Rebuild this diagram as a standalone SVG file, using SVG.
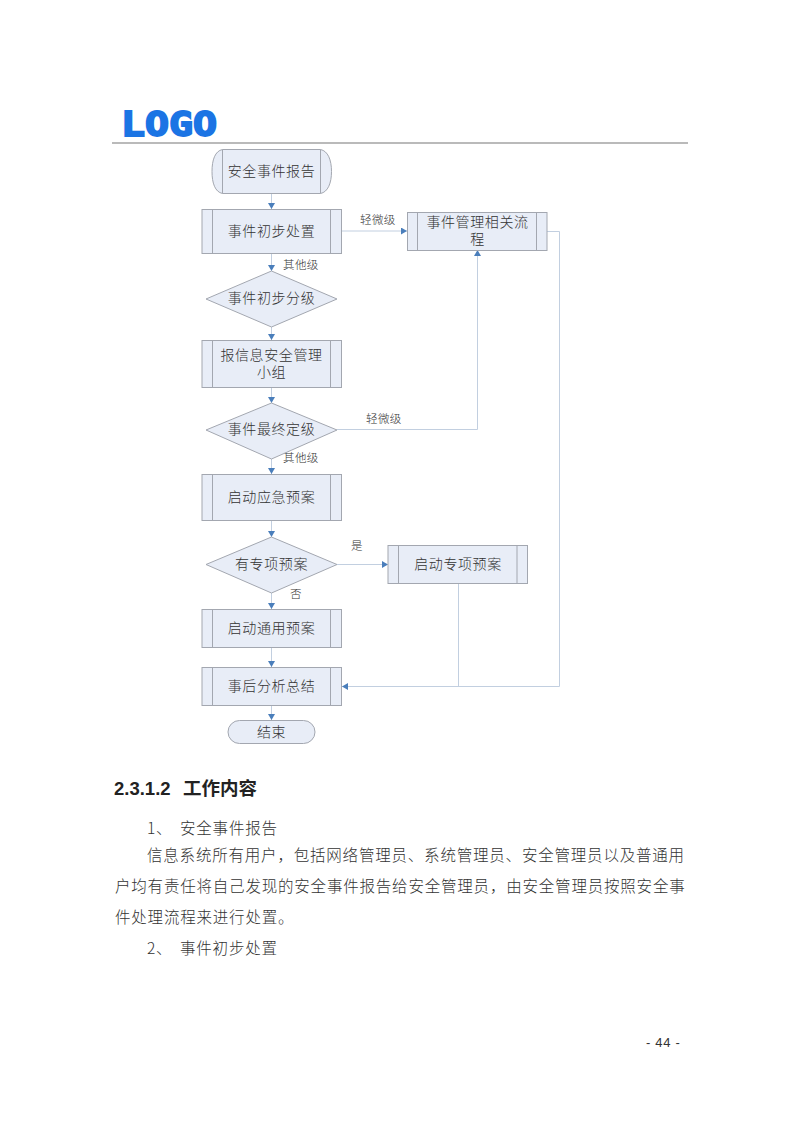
<svg xmlns="http://www.w3.org/2000/svg" width="800" height="1132" viewBox="0 0 800 1132">
<defs>
<marker id="arrow" markerUnits="userSpaceOnUse" markerWidth="7" markerHeight="7" refX="6" refY="3.5" orient="auto"><path d="M0 0L6 3.5L0 7z" fill="#4a7ebb"/></marker>
</defs>
<style>
text{font-family:"Noto Sans CJK SC","Noto Sans",sans-serif}
.shape{fill:#e8edf7;stroke:#a3a7b0;stroke-width:1}
.bar{stroke:#a3a7b0;stroke-width:1;fill:none}
.lbl{font-size:14px;fill:#333;text-anchor:middle;letter-spacing:.6px;font-weight:300}
.small{font-size:11.5px;fill:#333;letter-spacing:.4px;font-weight:300}
.con{fill:none;stroke:#c2cfe0;stroke-width:1;marker-end:url(#arrow)}
.con2{fill:none;stroke:#c2cfe0;stroke-width:1}
.body{font-size:15.5px;fill:#333;letter-spacing:.8px;font-weight:300}
</style>
<rect width="800" height="1132" fill="#fff"/>
<text x="121" y="136" font-size="33" font-weight="700" fill="#1b74e4" stroke="#1b74e4" stroke-width="1.8" textLength="96" lengthAdjust="spacingAndGlyphs" style="font-family:'DejaVu Sans Mono',monospace">LOGO</text>
<line x1="112" y1="143" x2="688" y2="143" stroke="#777" stroke-width="1.2"/>
<g id="connectors">
<path class="con" d="M271.500 193V209"/>
<path class="con" d="M271.500 253V271"/>
<path class="con" d="M271.500 327V340"/>
<path class="con" d="M271.500 388V403"/>
<path class="con" d="M271.500 459V474"/>
<path class="con" d="M271.500 520V537"/>
<path class="con" d="M271.500 593V609"/>
<path class="con" d="M271.500 648V667"/>
<path class="con" d="M271.500 705V720"/>
<path class="con" d="M341 231H407"/>
<path class="con" d="M337 429.500H477.500V250"/>
<path class="con" d="M337 564.500H388"/>
<path class="con2" d="M458.500 583V686.500"/>
<path class="con" d="M547 231.500H559.500V686.500H342"/>
<text class="small" x="360" y="224">轻微级</text>
<text class="small" x="283" y="269">其他级</text>
<text class="small" x="366" y="423">轻微级</text>
<text class="small" x="283" y="462">其他级</text>
<text class="small" x="351" y="550">是</text>
<text class="small" x="290" y="598">否</text>
</g>
<g id="n1"><path class="shape" d="M222.500 149.500H320.500C328 151 331.500 160 331.500 171.500C331.500 183 328 192 320.500 193.500H222.500C215 192 212 183 212 171.500C212 160 215 151 222.500 149.500Z"/><path class="bar" d="M222.500 149.500V193.500M320.500 149.500V193.500"/><text class="lbl" x="271.500" y="176">安全事件报告</text></g>
<g id="n2"><rect class="shape" x="202" y="209.500" width="139.500" height="44"/><path class="bar" d="M212.500 209.500V253.500M330.500 209.500V253.500"/><text class="lbl" x="271.500" y="236">事件初步处置</text></g>
<g id="n3"><path class="shape" d="M271.500 271L337 299L271.500 327L206 299Z"/><text class="lbl" x="271.500" y="303">事件初步分级</text></g>
<g id="n4"><rect class="shape" x="202" y="340.500" width="139.500" height="47"/><path class="bar" d="M212.500 340.500V387.500M330.500 340.500V387.500"/><text class="lbl"><tspan x="271.500" y="360">报信息安全管理</tspan><tspan x="271.500" y="377">小组</tspan></text></g>
<g id="n5"><path class="shape" d="M271.500 403L337 430L271.500 459L206 430Z"/><text class="lbl" x="271.500" y="434">事件最终定级</text></g>
<g id="n6"><rect class="shape" x="202" y="474.500" width="139.500" height="46"/><path class="bar" d="M212.500 474.500V520.500M330.500 474.500V520.500"/><text class="lbl" x="271.500" y="502">启动应急预案</text></g>
<g id="n7"><path class="shape" d="M271.500 537L337 564.500L271.500 593L206 564.500Z"/><text class="lbl" x="271.500" y="569">有专项预案</text></g>
<g id="n8"><rect class="shape" x="202" y="609.500" width="139.500" height="38"/><path class="bar" d="M212.500 609.500V647.500M330.500 609.500V647.500"/><text class="lbl" x="271.500" y="633">启动通用预案</text></g>
<g id="n9"><rect class="shape" x="202" y="667.500" width="139.500" height="38"/><path class="bar" d="M212.500 667.500V705.500M330.500 667.500V705.500"/><text class="lbl" x="271.500" y="691">事后分析总结</text></g>
<g id="n10"><rect class="shape" x="228" y="720.500" width="87" height="23" rx="11.500"/><text class="lbl" x="271.500" y="737">结束</text></g>
<g id="n11"><rect class="shape" x="407.500" y="212.500" width="139.500" height="38"/><path class="bar" d="M417.500 212.500V250.500M536.500 212.500V250.500"/><text class="lbl"><tspan x="477.500" y="227">事件管理相关流</tspan><tspan x="477.500" y="244">程</tspan></text></g>
<g id="n12"><rect class="shape" x="388" y="545.500" width="139.500" height="38"/><path class="bar" d="M398.500 545.500V583.500M517 545.500V583.500"/><text class="lbl" x="458" y="569">启动专项预案</text></g>
<text x="114" y="795" font-size="18.500" font-weight="700" fill="#222" style="font-family:'Liberation Sans','Noto Sans CJK SC',sans-serif">2.3.1.2</text>
<text x="183" y="795" font-size="18.500" font-weight="700" fill="#222" style="font-family:'Noto Sans CJK SC',sans-serif">工作内容</text>
<text class="body" x="147" y="834">1、</text>
<text class="body" x="180" y="834">安全事件报告</text>
<text class="body" x="147" y="861">信息系统所有用户，包括网络管理员、系统管理员、安全管理员以及普通用</text>
<text class="body" x="115" y="892">户均有责任将自己发现的安全事件报告给安全管理员，由安全管理员按照安全事</text>
<text class="body" x="115" y="923">件处理流程来进行处置。</text>
<text class="body" x="147" y="954">2、</text>
<text class="body" x="180" y="954">事件初步处置</text>
<text x="646" y="1047" font-size="13" fill="#333" style="font-family:'Liberation Sans',sans-serif;letter-spacing:.7px">- 44 -</text>
</svg>
